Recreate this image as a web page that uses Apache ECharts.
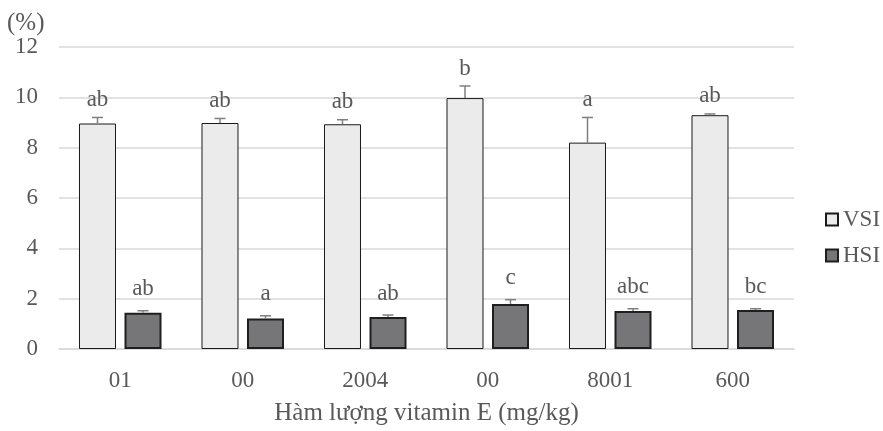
<!DOCTYPE html>
<html><head><meta charset="utf-8">
<script src="https://cdn.jsdelivr.net/npm/echarts@6/dist/echarts.min.js"></script>
<style>html,body{margin:0;padding:0;background:#fff}#c{width:883px;height:431px}</style>
</head><body><div id="c"></div>
<script>
const categories = ['01', '00', '2004', '00', '8001', '600'];
const vsiValues = [8.96, 8.98, 8.93, 9.97, 8.2, 9.29];
const vsiErrors = [0.24, 0.18, 0.18, 0.48, 1.0, 0.05];
const vsiLetters = ['ab', 'ab', 'ab', 'b', 'a', 'ab'];
const hsiValues = [1.44, 1.21, 1.27, 1.79, 1.51, 1.55];
const hsiErrors = [0.08, 0.11, 0.08, 0.17, 0.09, 0.05];
const hsiLetters = ['ab', 'a', 'ab', 'c', 'abc', 'bc'];
const yTicks = [0, 2, 4, 6, 8, 10, 12];

const FONT = '"Liberation Serif", "Times New Roman", serif';
const TXT = '#595959';
const BAR_W = 37, GAP = 8.5;
const OFF = (BAR_W + GAP) / 2;

function errSeries(name, vals, errs, letters, dir, textGap, stroke) {
  return {
    type: 'custom', name: name + '_err', z: 5, silent: true,
    data: vals.map((v, i) => [i, v, errs[i]]),
    renderItem(params, api) {
      const i = api.value(0), v = api.value(1), e = api.value(2);
      const b = api.coord([i, v]);
      const t = api.coord([i, v + e]);
      const x = b[0] + dir * OFF;
      return {
        type: 'group', children: [
          { type: 'line', shape: { x1: x, y1: b[1], x2: x, y2: t[1] }, style: { stroke: stroke, lineWidth: 1.5 } },
          { type: 'line', shape: { x1: x - 5.5, y1: t[1], x2: x + 5.5, y2: t[1] }, style: { stroke: stroke, lineWidth: 1.5 } },
          { type: 'text', style: { text: letters[params.dataIndex], x: x, y: t[1] - textGap, align: 'center', verticalAlign: 'bottom', font: '23px ' + FONT, fill: TXT } }
        ]
      };
    }
  };
}

const chart = echarts.init(document.getElementById('c'), null, { renderer: 'canvas' });
chart.setOption({
  animation: false,
  backgroundColor: '#fff',
  textStyle: { fontFamily: FONT },
  grid: { left: 59, right: 89, top: 47, bottom: 82, containLabel: false },
  graphic: [{ type: 'text', left: 7, top: 11, style: { text: '(%)', font: '25px ' + FONT, fill: TXT } }],
  legend: {
    data: ['VSI', 'HSI'], orient: 'vertical', left: 820, top: 203,
    itemWidth: 12, itemHeight: 12, itemGap: 13, icon: 'rect',
    textStyle: { fontSize: 23, color: TXT, fontFamily: FONT }
  },
  xAxis: {
    type: 'category', data: categories,
    axisLine: { lineStyle: { color: '#d9d9d9', width: 1.5 } },
    axisTick: { show: false },
    axisLabel: { fontSize: 23, color: TXT, fontFamily: FONT, margin: 20 },
    name: 'Hàm lượng vitamin E (mg/kg)', nameLocation: 'middle', nameGap: 52,
    nameTextStyle: { fontSize: 25, color: TXT, fontFamily: FONT }
  },
  yAxis: {
    type: 'value', min: yTicks[0], max: yTicks[yTicks.length - 1], interval: yTicks[1] - yTicks[0],
    axisLine: { show: false }, axisTick: { show: false },
    splitLine: { lineStyle: { color: '#d9d9d9', width: 1.5 } },
    axisLabel: { fontSize: 23, color: TXT, fontFamily: FONT, margin: 21 }
  },
  series: [
    { name: 'VSI', type: 'bar', data: vsiValues, barWidth: BAR_W, barGap: (GAP / BAR_W * 100).toFixed(1) + '%',
      itemStyle: { color: '#ebebec', borderColor: '#1a1a1a', borderWidth: 1 } },
    { name: 'HSI', type: 'bar', data: hsiValues, barWidth: BAR_W,
      itemStyle: { color: '#767678', borderColor: '#1f1f1f', borderWidth: 2 } },
    errSeries('VSI', vsiValues, vsiErrors, vsiLetters, -1, 6, '#7f7f7f'),
    errSeries('HSI', hsiValues, hsiErrors, hsiLetters, 1, 10, '#7f7f7f')
  ]
});
</script></body></html>
